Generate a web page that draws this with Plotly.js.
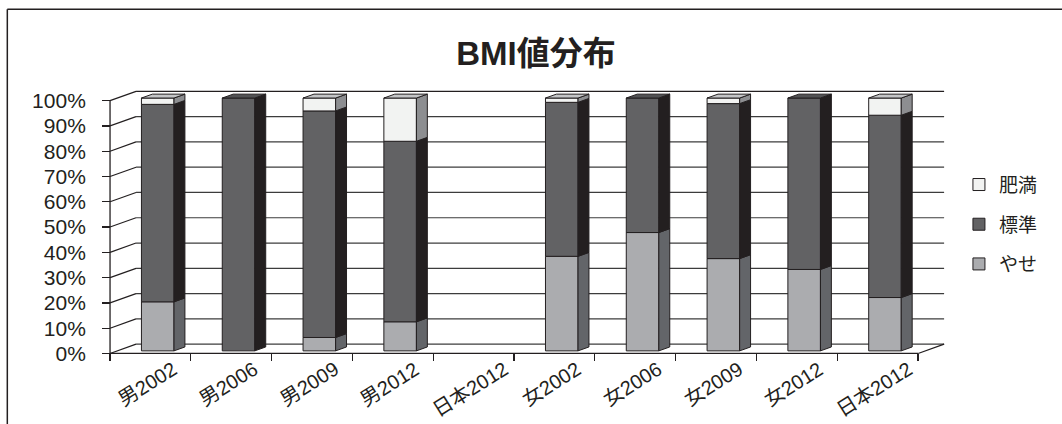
<!DOCTYPE html>
<html>
<head>
<meta charset="utf-8">
<script src="https://cdn.plot.ly/plotly-3.0.1.min.js"></script>
<style>html,body{margin:0;padding:0;background:#fff;}#chart{width:1062px;height:424px;}</style>
</head>
<body>
<div id="chart"></div>
<script>
// ---- data (percent) ----
const categories = ['男2002','男2006','男2009','男2012','日本2012','女2002','女2006','女2009','女2012','日本2012'];
const yase   = [19.4, 0, 5.3, 11.5, null, 37.4, 46.8, 36.5, 32.2, 21.1];
const hyojun = [78.1, 100, 89.6, 71.4, null, 60.9, 53.2, 61.3, 67.8, 72.1];
const himan  = [2.5, 0, 5.1, 17.1, null, 1.7, 0, 2.2, 0, 6.8];
const seriesNames = ['やせ', '標準', '肥満'];
const yTickVals = [0,10,20,30,40,50,60,70,80,90,100];
const yTickText = yTickVals.map(v => v + '%');

// ---- styling / pseudo-3D geometry ----
const FONT = 'Liberation Sans, Arial, "Noto Sans CJK JP", sans-serif';
const INK = '#231f20';
const frontCol = ['#abacaf', '#626264', '#f2f3f2'];
const sideCol  = ['#636569', '#231f20', '#8d8e91'];
const topCol   = ['#c6c7c9', '#525254', '#c4c5c7'];
const DX = 0.3217, DY = 3.68;        // full floor depth (category units, % units)
const D0 = 0.28, D1 = 0.70;          // bar depth span
const BAR_W = 0.403;
const XR = [-0.55, 9.87], YR = [-1, 105];

const series = [yase, hyojun, himan];
const n = categories.length;
const idx = categories.map((c, i) => i);

// cumulative bases
const bases = series.map((s, k) => idx.map(i => {
  let b = 0; for (let j = 0; j < k; j++) b += (series[j][i] || 0); return b;
}));

const traces = [];
// front faces (bars)
series.forEach((s, k) => {
  traces.push({
    type: 'bar', name: seriesNames[k], legendgroup: seriesNames[k],
    legendrank: series.length - k,
    x: idx.map(i => i + D0 * DX),
    y: s.map(v => (v ? v : null)),
    base: bases[k].map(b => b + D0 * DY),
    width: BAR_W,
    marker: {color: frontCol[k], line: {color: INK, width: 1}},
    hoverinfo: 'skip'
  });
});
// side faces and top faces
const bdx = (D1 - D0) * DX, bdy = (D1 - D0) * DY;
series.forEach((s, k) => {
  const sx = [], sy = [], tx = [], ty = [];
  idx.forEach(i => {
    const v = s[i];
    if (!v) return;
    const lo = bases[k][i] + D0 * DY, hi = lo + v;
    const xl = i + D0 * DX - BAR_W / 2, xr = i + D0 * DX + BAR_W / 2;
    sx.push(xr, xr + bdx, xr + bdx, xr, xr, null);
    sy.push(lo, lo + bdy, hi + bdy, hi, lo, null);
    let isTop = true;
    for (let j = k + 1; j < series.length; j++) if (series[j][i]) isTop = false;
    if (isTop) {
      tx.push(xl, xl + bdx, xr + bdx, xr, xl, null);
      ty.push(hi, hi + bdy, hi + bdy, hi, hi, null);
    }
  });
  traces.push({type: 'scatter', mode: 'lines', x: sx, y: sy, fill: 'toself',
    fillcolor: sideCol[k], line: {color: INK, width: 1}, showlegend: false, hoverinfo: 'skip'});
  traces.push({type: 'scatter', mode: 'lines', x: tx, y: ty, fill: 'toself',
    fillcolor: topCol[k], line: {color: INK, width: 1}, showlegend: false, hoverinfo: 'skip'});
});

// ---- walls / floor (decoration built from the tick values) ----
const shapes = [];
const xL = -0.5, xRt = n - 0.5;
yTickVals.forEach(g => {
  shapes.push({type: 'line', layer: 'below', xref: 'x', yref: 'y',
    x0: xL + DX, y0: g + DY, x1: xRt + DX, y1: g + DY,
    line: {color: g === 100 ? INK : '#3c3c3c', width: g === 100 ? 1.3 : 1.2}});
  shapes.push({type: 'line', layer: 'below', xref: 'x', yref: 'y',
    x0: xL, y0: g, x1: xL + DX, y1: g + DY, line: {color: INK, width: 1.2}});
});
shapes.push({type: 'line', layer: 'below', xref: 'x', yref: 'y', x0: xL, y0: 0, x1: xL, y1: 100, line: {color: INK, width: 1.3}});
shapes.push({type: 'line', layer: 'below', xref: 'x', yref: 'y', x0: xL, y0: 0, x1: xRt, y1: 0, line: {color: INK, width: 1.3}});
shapes.push({type: 'line', layer: 'below', xref: 'x', yref: 'y', x0: xRt, y0: 0, x1: xRt + DX, y1: DY, line: {color: INK, width: 1.2}});
// outer frame (top and left edges)
shapes.push({type: 'line', xref: 'paper', yref: 'paper', x0: -0.1172, y0: 1.2937, x1: 1.2, y1: 1.2937, line: {color: INK, width: 1.5}});
shapes.push({type: 'line', xref: 'paper', yref: 'paper', x0: -0.1172, y0: 1.2937, x1: -0.1172, y1: -0.3, line: {color: INK, width: 1.5}});

// category labels
const annotations = categories.map((c, i) => ({
  x: i, y: 0, xref: 'x', yref: 'y', text: c, textangle: -32,
  xanchor: 'center', yanchor: 'top', showarrow: false, yshift: -1, xshift: -3,
  font: {family: FONT, size: 20, color: INK}
}));

const layout = {
  width: 1062, height: 424,
  paper_bgcolor: '#ffffff', plot_bgcolor: 'rgba(0,0,0,0)',
  margin: {l: 106, r: 114, t: 88, b: 68, autoexpand: false},
  title: {text: '<b>BMI値分布</b>', font: {family: FONT, size: 33, color: INK},
    x: 0.5047, xanchor: 'center', y: 0.875, yanchor: 'middle'},
  barmode: 'overlay', bargap: 0,
  showlegend: true,
  legend: {x: 1.013, xanchor: 'left', y: 0.49, yanchor: 'middle',
    traceorder: 'grouped', tracegroupgap: 12,
    font: {family: FONT, size: 19, color: INK}, bgcolor: 'rgba(0,0,0,0)'},
  xaxis: {range: XR, anchor: 'free', position: (0 - YR[0]) / (YR[1] - YR[0]),
    tickmode: 'array', tickvals: idx.map(i => i - 0.5).concat([n - 0.5]),
    ticks: 'outside', ticklen: 7, tickwidth: 1.2, tickcolor: INK,
    showticklabels: false, showgrid: false, zeroline: false, showline: false, fixedrange: true},
  yaxis: {range: YR, anchor: 'free', position: (xL - XR[0]) / (XR[1] - XR[0]),
    tickmode: 'array', tickvals: yTickVals, ticktext: yTickText,
    ticks: 'outside', ticklen: 8, tickwidth: 1.2, tickcolor: INK, ticklabelstandoff: 12,
    tickfont: {family: FONT, size: 21, color: INK},
    showgrid: false, zeroline: false, showline: false, fixedrange: true},
  shapes: shapes,
  annotations: annotations
};

Plotly.newPlot('chart', traces, layout, {staticPlot: true, displayModeBar: false});
</script>
</body>
</html>
